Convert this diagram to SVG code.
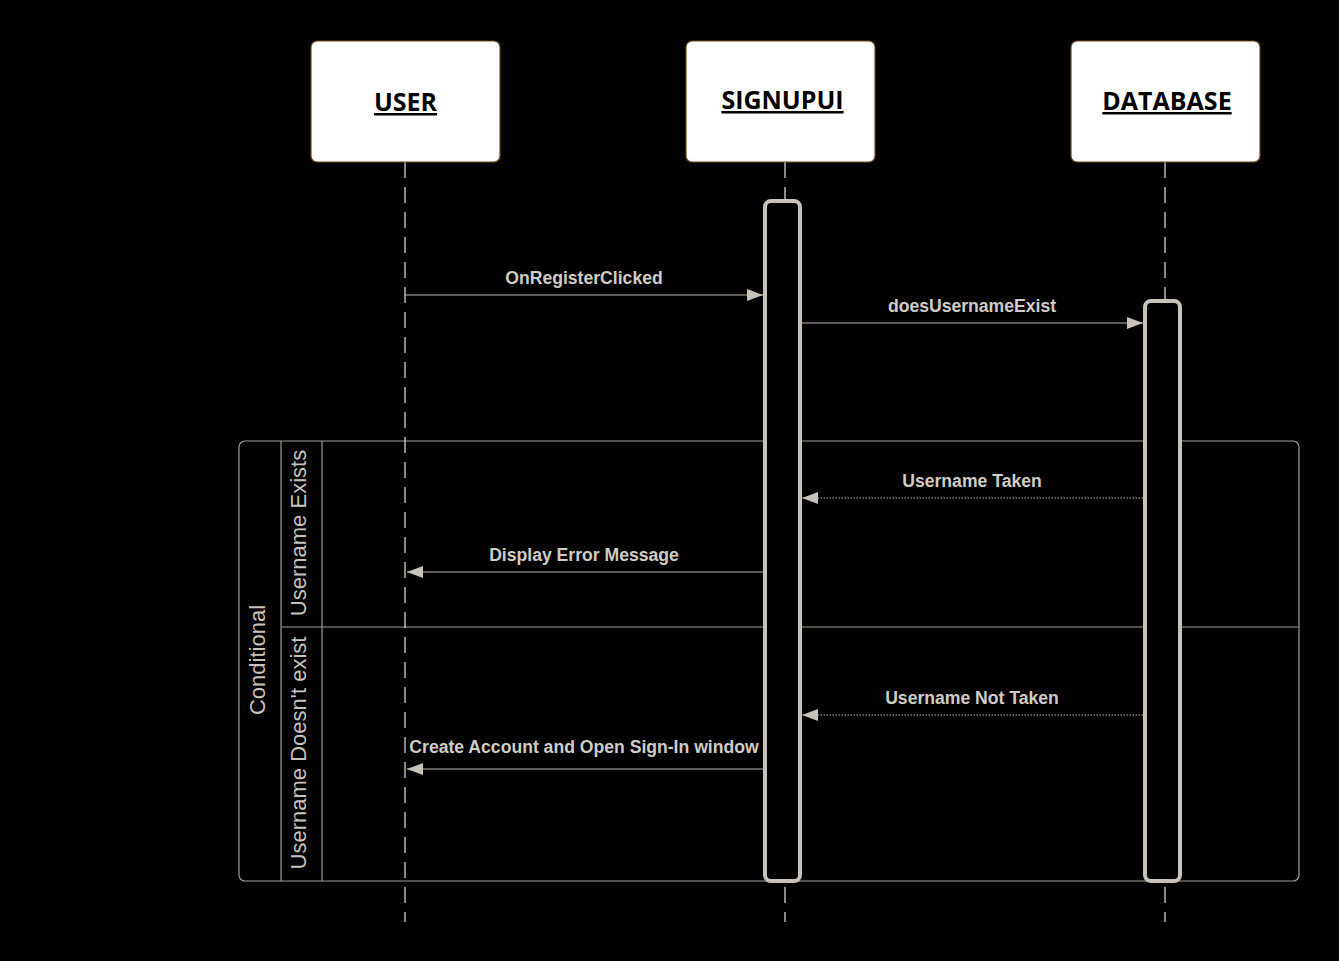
<svg xmlns="http://www.w3.org/2000/svg" width="1339" height="961" viewBox="0 0 1339 961">
<style>
.head{fill:#fff;stroke:#6b4a1a;stroke-width:1.2}
.title{font-family:"Open Sans","Liberation Sans",sans-serif;font-weight:bold;font-size:25px;fill:#000;text-anchor:middle;text-decoration:underline}
.life{stroke:#e6e3de;stroke-width:1.2;stroke-dasharray:16 9;fill:none}
.act{fill:#000;stroke:#c8c3ba;stroke-width:4}
.msg{stroke:#bdb8b0;stroke-width:1.2;fill:none}
.ret{stroke:#bdb8b0;stroke-width:1.2;stroke-dasharray:1.5 1.5;fill:none}
.lbl{font-family:"Liberation Sans",Arial,sans-serif;font-weight:bold;font-size:17.6px;fill:#d0ccc5;text-anchor:middle}
.frame{fill:none;stroke:#a09b93;stroke-width:1.2}
.rot{font-family:"Liberation Sans",Arial,sans-serif;font-size:22px;fill:#c8c3ba;text-anchor:middle}
</style>
<defs>
<marker id="arr" viewBox="0 0 16 12" refX="16" refY="6" markerWidth="16" markerHeight="12" markerUnits="userSpaceOnUse" orient="auto">
<path d="M0,0 L16,6 L0,12 Z" fill="#c8c3ba"/>
</marker>
</defs>
<rect width="1339" height="961" fill="#000"/>
<g id="frame">
<rect class="frame" x="239" y="441" width="1060" height="440" rx="6"/>
<line class="frame" x1="281" y1="441" x2="281" y2="881"/>
<line class="frame" x1="322" y1="441" x2="322" y2="881"/>
<line class="frame" x1="281" y1="627" x2="1299" y2="627"/>
<text class="rot" transform="translate(265,660) rotate(-90)">Conditional</text>
<text class="rot" transform="translate(306,533) rotate(-90)">Username Exists</text>
<text class="rot" transform="translate(306,753) rotate(-90)">Username Doesn't exist</text>
</g>
<g id="lifelines">
<line class="life" x1="405" y1="162" x2="405" y2="922"/>
<line class="life" x1="785" y1="162" x2="785" y2="922"/>
<line class="life" x1="1165" y1="162" x2="1165" y2="922"/>
</g>
<g id="user">
<rect class="head" x="311" y="41" width="189" height="121" rx="6"/>
<text class="title" x="405.5" y="111">USER</text>
</g>
<g id="signupui">
<rect class="head" x="686" y="41" width="189" height="121" rx="6"/>
<rect class="act" x="765" y="201" width="35" height="680" rx="6"/>
<text class="title" x="782.5" y="109">SIGNUPUI</text>
</g>
<g id="database">
<rect class="head" x="1071" y="41" width="189" height="121" rx="6"/>
<rect class="act" x="1145" y="301" width="35" height="580" rx="6"/>
<text class="title" x="1167" y="110">DATABASE</text>
</g>
<g id="connectors">
<line class="msg" x1="405" y1="295" x2="763" y2="295" marker-end="url(#arr)"/>
<text class="lbl" x="584" y="284">OnRegisterClicked</text>
<line class="msg" x1="801" y1="323" x2="1143" y2="323" marker-end="url(#arr)"/>
<text class="lbl" x="972" y="312">doesUsernameExist</text>
<line class="ret" x1="1143" y1="498" x2="802" y2="498" marker-end="url(#arr)"/>
<text class="lbl" x="972" y="487">Username Taken</text>
<line class="msg" x1="763" y1="572" x2="407" y2="572" marker-end="url(#arr)"/>
<text class="lbl" x="584" y="561">Display Error Message</text>
<line class="ret" x1="1143" y1="715" x2="802" y2="715" marker-end="url(#arr)"/>
<text class="lbl" x="972" y="704">Username Not Taken</text>
<line class="msg" x1="763" y1="769" x2="407" y2="769" marker-end="url(#arr)"/>
<text class="lbl" x="584" y="753">Create Account and Open Sign-In window</text>
</g>
</svg>
